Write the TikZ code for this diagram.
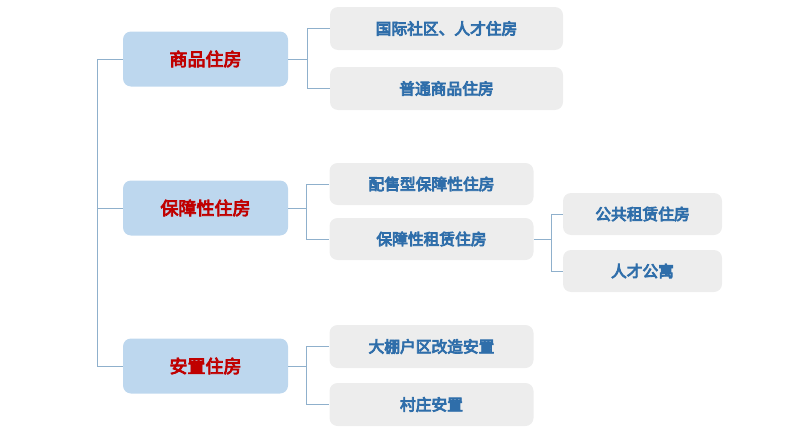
\documentclass[tikz,border=0pt]{standalone}
\usepackage{fontspec}
\newfontfamily\cjk{Noto Sans CJK SC}
\newcommand{\heavy}[1]{\special{pdf:literal direct 2 Tr 0.6 w}#1\special{pdf:literal direct 0 Tr}}
\definecolor{mainfill}{HTML}{BDD7EE}
\definecolor{maintext}{HTML}{C00000}
\definecolor{subfill}{HTML}{EDEDED}
\definecolor{subtext}{HTML}{2F6EAA}
\definecolor{linec}{HTML}{8FB0CC}
\begin{document}
\begin{tikzpicture}[x=0.75pt,y=-0.75pt,
  mainbox/.style={fill=mainfill,rounded corners=6pt,inner sep=0pt,
    font=\cjk\fontsize{13.5}{15}\selectfont,text=maintext},
  subbox/.style={fill=subfill,rounded corners=6pt,inner sep=0pt,
    font=\cjk\fontsize{11.8}{14}\selectfont,text=subtext},
  conn/.style={draw=linec,line width=0.7pt}]
\useasboundingbox (0,0) rectangle (786,439);
% main boxes
\node[mainbox,minimum width=165*0.75pt,minimum height=55*0.75pt] (m1) at (205.5,59) {\heavy{商品住房}};
\node[mainbox,minimum width=165*0.75pt,minimum height=55*0.75pt] (m2) at (205.5,208) {\heavy{保障性住房}};
\node[mainbox,minimum width=165*0.75pt,minimum height=55*0.75pt] (m3) at (205.5,366) {\heavy{安置住房}};
% level 2
\node[subbox,minimum width=233*0.75pt,minimum height=43*0.75pt] (a1) at (446.5,28.5) {\heavy{国际社区、人才住房}};
\node[subbox,minimum width=233*0.75pt,minimum height=43*0.75pt] (a2) at (446.5,88.5) {\heavy{普通商品住房}};
\node[subbox,minimum width=204*0.75pt,minimum height=42*0.75pt] (b1) at (431.5,184) {\heavy{配售型保障性住房}};
\node[subbox,minimum width=204*0.75pt,minimum height=42*0.75pt] (b2) at (431.5,239) {\heavy{保障性租赁住房}};
\node[subbox,minimum width=204*0.75pt,minimum height=43*0.75pt] (c1) at (431.5,346.5) {\heavy{大棚户区改造安置}};
\node[subbox,minimum width=204*0.75pt,minimum height=43*0.75pt] (c2) at (431.5,404.5) {\heavy{村庄安置}};
% level 3
\node[subbox,minimum width=159*0.75pt,minimum height=42*0.75pt] (d1) at (642.5,214) {\heavy{公共租赁住房}};
\node[subbox,minimum width=159*0.75pt,minimum height=42*0.75pt] (d2) at (642.5,271) {\heavy{人才公寓}};
% root trunk
\coordinate (t1) at (97,59);
\coordinate (t3) at (97,366);
\draw[conn] (m1.west) -- (t1) -- (t3) -- (m3.west);
\draw[conn] (m2.west) -- (97,208);
% branches
\draw[conn] (m1.east) -- (307,59);
\draw[conn] (a1.west) -- (307,28.5) -- (307,88.5) -- (a2.west);
\draw[conn] (m2.east) -- (306,208);
\draw[conn] (b1.west) -- (306,184) -- (306,239) -- (b2.west);
\draw[conn] (m3.east) -- (306,366);
\draw[conn] (c1.west) -- (306,346.5) -- (306,404.5) -- (c2.west);
\draw[conn] (b2.east) -- (551,239);
\draw[conn] (d1.west) -- (551,214) -- (551,271) -- (d2.west);
\end{tikzpicture}
\end{document}
